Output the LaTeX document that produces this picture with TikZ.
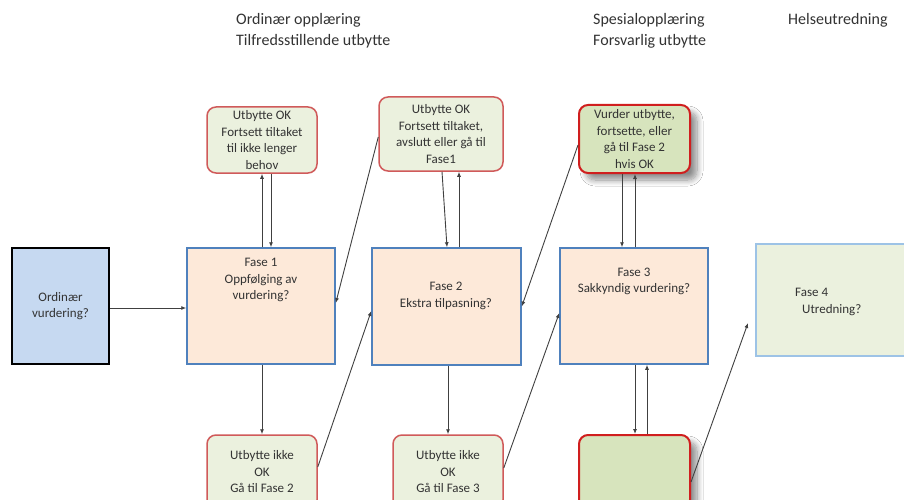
\documentclass[tikz,border=0pt]{standalone}
\usepackage{fontspec}
\setmainfont{Carlito}
\usetikzlibrary{arrows.meta,shadows.blur}
\definecolor{ordfill}{HTML}{C6D9F1}
\definecolor{fasefill}{HTML}{FDE9D9}
\definecolor{faseline}{HTML}{4F81BD}
\definecolor{f4fill}{HTML}{EBF1DE}
\definecolor{f4line}{HTML}{9DC3E6}
\definecolor{boxfill}{HTML}{EBF1DE}
\definecolor{boxline}{HTML}{D05A5A}
\definecolor{darkfill}{HTML}{D7E4BD}
\definecolor{darkline}{HTML}{D01E1E}
\definecolor{txt}{HTML}{333333}
\definecolor{arrc}{HTML}{404040}
\tikzset{
  boxtext/.style={font=\fontsize{13}{16.5}\selectfont, text=txt, align=center, inner sep=0pt},
  toptext/.style={font=\fontsize{16}{21.5}\selectfont, text=txt, align=left, inner sep=0pt, anchor=north west},
  ordbox/.style={draw=black, line width=2pt, fill=ordfill},
  fasebox/.style={draw=faseline, line width=1.5pt, fill=fasefill, inner sep=0pt},
  fase4box/.style={draw=f4line, line width=1.5pt, fill=f4fill, inner sep=0pt},
  okbox/.style={draw=boxline, line width=1.5pt, fill=boxfill, rounded corners=9pt},
  keybox/.style={draw=darkline, line width=2pt, fill=darkfill, rounded corners=9pt,
     blur shadow={shadow xshift=7pt, shadow yshift=-7pt, shadow blur steps=10, shadow blur radius=6pt, shadow opacity=45}},
  arr/.style={draw=arrc, line width=0.9pt, -{Latex[length=5pt,width=4pt]}},
}
\begin{document}
\begin{tikzpicture}[x=1pt,y=-1pt]
\clip (0,0) rectangle (904,500);
\fill[white] (0,0) rectangle (904,500);

% top labels
\node[toptext] (t1) at (236,13) {Ordinær opplæring\\Tilfredsstillende utbytte};
\node[toptext] (t2) at (593,13) {Spesialopplæring\\Forsvarlig utbytte};
\node[toptext] (t3) at (788,13) {Helseutredning};

% main boxes
\node[ordbox, boxtext, minimum width=97pt, minimum height=116pt] (ord) at (60.5,306) {Ordinær\\vurdering?};
\node[fasebox, minimum width=148pt, minimum height=116pt] (f1) at (261,306) {};
\node[fasebox, minimum width=149pt, minimum height=117pt] (f2) at (446.5,306.5) {};
\node[fasebox, minimum width=148pt, minimum height=116pt] (f3) at (634,306) {};
\node[fase4box, minimum width=154pt, minimum height=112pt] (f4) at (833,300) {};

\node[boxtext] (f1t) at (261,280) {Fase 1\\Oppfølging av\\vurdering?};
\node[boxtext] (f2t) at (446,296) {Fase 2\\Ekstra tilpasning?};
\node[boxtext] (f3t) at (634,281.5) {Fase 3\\Sakkyndig vurdering?};
\node[boxtext, align=left, anchor=west] (f4t) at (795,302) {Fase 4\\\hspace*{7pt}Utredning?};

% small boxes
\node[okbox, boxtext, minimum width=110pt, minimum height=66pt] (bA) at (262,140)
  {Utbytte OK\\Fortsett tiltaket\\til ikke lenger\\behov};
\node[okbox, boxtext, minimum width=124pt, minimum height=74pt] (bB) at (441,134)
  {Utbytte OK\\Fortsett tiltaket,\\avslutt eller gå til\\Fase1};
\node[keybox, boxtext, minimum width=111pt, minimum height=68pt] (bC) at (634.5,139)
  {Vurder utbytte,\\fortsette, eller\\gå til Fase 2\\hvis OK};
\node[okbox, boxtext, minimum width=110pt, minimum height=74pt] (bD) at (262,472)
  {Utbytte ikke\\OK\\Gå til Fase 2};
\node[okbox, boxtext, minimum width=110pt, minimum height=74pt] (bE) at (448,472)
  {Utbytte ikke\\OK\\Gå til Fase 3};
\node[keybox, minimum width=111pt, minimum height=74pt] (bF) at (634.5,472) {};

\coordinate (p4) at (748,323);

% connectors
\draw[arr] ([yshift=-2pt]ord.east) -- ([yshift=-2pt]f1.west);

\draw[arr] ([xshift=1pt]f1.north) -- ([xshift=0pt]bA.south);
\draw[arr] ([xshift=9pt]bA.south) -- ([xshift=10pt]f1.north);

\draw[arr] ([xshift=1pt]bB.south) -- ([xshift=0.5pt]f2.north);
\draw[arr] ([xshift=12.5pt]f2.north) -- ([xshift=18pt]bB.south);

\draw[arr] ([xshift=-12.5pt]bC.south) -- ([xshift=-12pt]f3.north);
\draw[arr] ([xshift=1pt]f3.north) -- ([xshift=0.5pt]bC.south);

\draw[arr] ([xshift=1pt]f1.south) -- (bD.north);
\draw[arr] ([xshift=1.5pt]f2.south) -- (bE.north);
\draw[arr] ([xshift=1pt]f3.south) -- ([xshift=0.5pt]bF.north);
\draw[arr] ([xshift=12.5pt]bF.north) -- ([xshift=13pt]f3.south);

\draw[arr] ([yshift=-3pt]bB.west) -- ([yshift=3pt]f1.east);
\draw[arr] ([yshift=-6pt]bC.west) -- (f2.east);
\draw[arr] ([yshift=5pt]bD.east) -- ([yshift=-4.5pt]f2.west);
\draw[arr] ([yshift=4pt]bE.east) -- ([yshift=-7pt]f3.west);
\draw[arr] ([yshift=-10pt]bF.east) -- (p4);
\end{tikzpicture}
\end{document}
